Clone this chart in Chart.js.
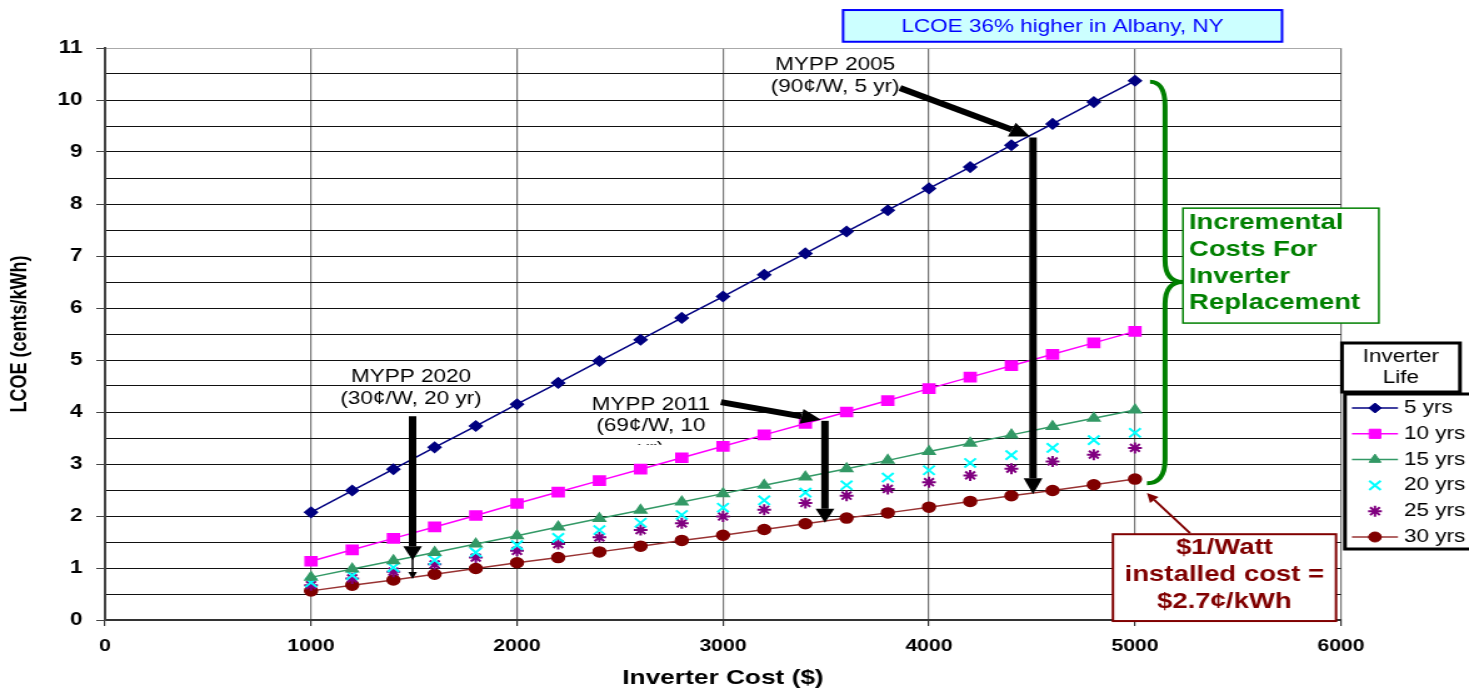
<!DOCTYPE html>
<html lang="en">
  <head>
    <meta charset="utf-8" />
    <title>LCOE vs inverter cost</title>
    <style>
      * {
        margin: 0;
        padding: 0;
      }
      body {
        background: white;
        overflow: hidden;
        width: 1469px;
        height: 689px;
      }
      /* the source picture is a stretched Excel export, so draw narrow and stretch */
      .chartBox {
        width: 1175px;
        height: 689px;
        transform: scaleX(1.2502);
        transform-origin: 0 0;
      }
    </style>
  </head>
  <body>
    <div class="chartBox">
      <canvas id="myChart"></canvas>
    </div>

    <script src="https://cdn.jsdelivr.net/npm/chart.js@4.4.1/dist/chart.umd.min.js"></script>

    <script>
      const FONT = "'Liberation Sans', Arial, sans-serif";

      const costs = [1000, 1200, 1400, 1600, 1800, 2000, 2200, 2400, 2600, 2800, 3000,
        3200, 3400, 3600, 3800, 4000, 4200, 4400, 4600, 4800, 5000];
      const life5 = [2.07, 2.49, 2.9, 3.32, 3.73, 4.15, 4.56, 4.98, 5.39, 5.81, 6.22,
        6.64, 7.05, 7.47, 7.88, 8.3, 8.71, 9.13, 9.54, 9.96, 10.37];
      const life10 = [1.13, 1.35, 1.57, 1.79, 2.01, 2.24, 2.46, 2.68, 2.9, 3.12, 3.34,
        3.56, 3.78, 4.0, 4.22, 4.45, 4.67, 4.89, 5.11, 5.33, 5.55];
      const life15 = [0.82, 0.98, 1.14, 1.3, 1.46, 1.62, 1.79, 1.95, 2.11, 2.27, 2.43,
        2.59, 2.75, 2.91, 3.07, 3.24, 3.4, 3.56, 3.72, 3.88, 4.04];
      const life20 = [0.72, 0.86, 1.01, 1.15, 1.3, 1.44, 1.58, 1.73, 1.87, 2.02, 2.16,
        2.3, 2.45, 2.59, 2.74, 2.88, 3.02, 3.17, 3.31, 3.46, 3.6];
      const life25 = [0.67, 0.8, 0.93, 1.07, 1.2, 1.33, 1.46, 1.59, 1.73, 1.86, 1.99,
        2.12, 2.25, 2.39, 2.52, 2.65, 2.78, 2.91, 3.05, 3.18, 3.31];
      const life30 = [0.56, 0.67, 0.77, 0.88, 0.99, 1.1, 1.2, 1.31, 1.42, 1.53, 1.63,
        1.74, 1.85, 1.96, 2.06, 2.17, 2.28, 2.39, 2.49, 2.6, 2.71];
      const seriesLabels = ["5 yrs", "10 yrs", "15 yrs", "20 yrs", "25 yrs", "30 yrs"];

      const pts = (ys) => costs.map((c, i) => ({ x: c, y: ys[i] }));

      const datasets = [
        { label: seriesLabels[0], data: pts(life5), showLine: true, borderColor: "#000080",
          backgroundColor: "#000080", pointStyle: "rectRot", pointRadius: 5, borderWidth: 1.5 },
        { label: seriesLabels[1], data: pts(life10), showLine: true, borderColor: "#ff00ff",
          backgroundColor: "#ff00ff", pointStyle: "rect", pointRadius: 6.5, borderWidth: 1.5 },
        { label: seriesLabels[2], data: pts(life15), showLine: true, borderColor: "#339966",
          backgroundColor: "#339966", pointStyle: "triangle", pointRadius: 5.5, borderWidth: 1.5 },
        { label: seriesLabels[3], data: pts(life20), showLine: false, borderColor: "#00ffff",
          backgroundColor: "#00ffff", pointStyle: "crossRot", pointRadius: 6.5, pointBorderWidth: 2 },
        { label: seriesLabels[4], data: pts(life25), showLine: false, borderColor: "#800080",
          backgroundColor: "#800080", pointStyle: "star", pointRadius: 5.5, pointBorderWidth: 2 },
        { label: seriesLabels[5], data: pts(life30), showLine: true, borderColor: "#993333",
          backgroundColor: "#800000", pointBorderColor: "#800000", pointStyle: "circle",
          pointRadius: 5, borderWidth: 1.5 },
      ];

      function arrow(ctx, x1, y1, x2, y2, w, hl, hw, col) {
        const a = Math.atan2(y2 - y1, x2 - x1);
        const bx = x2 - hl * Math.cos(a);
        const by = y2 - hl * Math.sin(a);
        ctx.save();
        ctx.strokeStyle = col;
        ctx.fillStyle = col;
        ctx.lineWidth = w;
        ctx.beginPath();
        ctx.moveTo(x1, y1);
        ctx.lineTo(bx, by);
        ctx.stroke();
        ctx.beginPath();
        ctx.moveTo(x2, y2);
        ctx.lineTo(bx + (hw / 2) * Math.sin(a), by - (hw / 2) * Math.cos(a));
        ctx.lineTo(bx - (hw / 2) * Math.sin(a), by + (hw / 2) * Math.cos(a));
        ctx.closePath();
        ctx.fill();
        ctx.restore();
      }

      function lines(ctx, txt, x, y0, dy, font, color, align) {
        ctx.save();
        ctx.font = font;
        ctx.fillStyle = color;
        ctx.textAlign = align || "center";
        ctx.textBaseline = "middle";
        txt.forEach((t, i) => ctx.fillText(t, x, y0 + i * dy));
        ctx.restore();
      }

      function box(ctx, x1, y1, x2, y2, fill, stroke, lw) {
        ctx.save();
        ctx.fillStyle = fill;
        ctx.fillRect(x1, y1, x2 - x1, y2 - y1);
        ctx.strokeStyle = stroke;
        ctx.lineWidth = lw;
        ctx.strokeRect(x1, y1, x2 - x1, y2 - y1);
        ctx.restore();
      }

      const notes = {
        id: "notes",
        afterDraw(chart) {
          const { ctx, chartArea: ca, scales: { x, y } } = chart;
          const X = (v) => x.getPixelForValue(v);
          const Y = (v) => y.getPixelForValue(v);
          const reg = "18px " + FONT;
          const bold = "bold 22px " + FONT;

          // Albany box
          box(ctx, X(3583), Y(11.73), X(5714), Y(11.12), "#ccffff", "#0000ff", 2);
          lines(ctx, ["LCOE 36% higher in Albany, NY"], X(4648), Y(11.41), 0, reg, "#0000ff");

          // MYPP 2005
          lines(ctx, ["MYPP 2005", "(90\u00a2/W, 5 yr)"], X(3544), Y(10.67), 22, reg, "#000");
          arrow(ctx, X(3859), Y(10.23), X(4490), Y(9.3), 6, 16, 15, "#000");
          arrow(ctx, X(4505), Y(9.28), X(4505), Y(2.42), 6, 16, 15, "#000");

          // MYPP 2011 (third line clipped like the text box in the source)
          lines(ctx, ["MYPP 2011", "(69\u00a2/W, 10"], X(2650), Y(4.13), 21, reg, "#000");
          ctx.save();
          ctx.beginPath();
          ctx.rect(X(2300), Y(3.5), X(3000) - X(2300), Y(3.37) - Y(3.5));
          ctx.clip();
          lines(ctx, ["yr)"], X(2650), Y(3.29), 0, reg, "#000");
          ctx.restore();
          arrow(ctx, X(2990), Y(4.19), X(3476), Y(3.85), 6, 16, 15, "#000");
          arrow(ctx, X(3495), Y(3.83), X(3495), Y(1.87), 6, 14, 15, "#000");

          // MYPP 2020
          lines(ctx, ["MYPP 2020", "(30\u00a2/W, 20 yr)"], X(1485), Y(4.67), 22, reg, "#000");
          arrow(ctx, X(1493), Y(3.92), X(1493), Y(1.15), 6, 14, 15, "#000");
          arrow(ctx, X(1493), Y(1.2), X(1493), Y(0.79), 1.5, 7, 7, "#000");

          // green brace
          const xs = X(5073), xv = X(5146), xc = X(5233), xe = X(5058);
          const yt = Y(10.35), ym = Y(6.5), yb = Y(2.63);
          ctx.save();
          ctx.strokeStyle = "#008000";
          ctx.lineWidth = 4;
          ctx.beginPath();
          ctx.moveTo(xs, yt);
          ctx.quadraticCurveTo(xv, yt, xv, yt + 24);
          ctx.lineTo(xv, ym - 22);
          ctx.quadraticCurveTo(xv, ym, xc, ym);
          ctx.moveTo(xc, ym);
          ctx.quadraticCurveTo(xv, ym, xv, ym + 22);
          ctx.lineTo(xv, yb - 24);
          ctx.quadraticCurveTo(xv, yb, xe, yb);
          ctx.stroke();
          ctx.restore();

          box(ctx, X(5233), Y(7.92), X(6184), Y(5.71), "#fff", "#008000", 1.5);
          lines(ctx, ["Incremental", "Costs For", "Inverter", "Replacement"],
            X(5262), Y(7.63), 26.6, bold, "#008000", "left");

          // $1/Watt note
          box(ctx, X(4893), Y(1.65), X(5976), Y(-0.02), "#fff", "#800000", 2);
          lines(ctx, ["$1/Watt", "installed cost =", "$2.7\u00a2/kWh"],
            X(5434), Y(1.38), 27, bold, "#800000");
          arrow(ctx, X(5267), Y(1.67), X(5058), Y(2.44), 2, 9, 9, "#800000");

          // legend
          const tl = ca.right + 0.8;
          box(ctx, tl, 343, tl + 94.4, 392, "#fff", "#000", 3);
          lines(ctx, ["Inverter", "Life"], tl + 47.2, 357, 21, reg, "#000");
          const ll = ca.right + 3.2;
          box(ctx, ll, 394, ll + 120, 549, "#fff", "#000", 3);
          chart.data.datasets.forEach((ds, i) => {
            const ry = 408 + i * 25.8;
            ctx.save();
            if (ds.showLine) {
              ctx.strokeStyle = ds.borderColor;
              ctx.lineWidth = 1.5;
              ctx.beginPath();
              ctx.moveTo(ca.right + 8.8, ry);
              ctx.lineTo(ca.right + 45.6, ry);
              ctx.stroke();
            }
            ctx.fillStyle = ds.backgroundColor;
            ctx.strokeStyle = ds.pointBorderColor || ds.borderColor;
            ctx.lineWidth = ds.pointBorderWidth || 1;
            Chart.helpers.drawPoint(ctx, {
              pointStyle: ds.pointStyle, radius: ds.pointRadius, rotation: 0,
              borderWidth: ds.pointBorderWidth || 1,
            }, ca.right + 27.2, ry);
            ctx.restore();
            lines(ctx, [ds.label], ca.right + 50.5, ry, 0, reg, "#000", "left");
          });
        },
      };

      const config = {
        type: "scatter",
        data: { datasets: datasets },
        options: {
          responsive: true,
          maintainAspectRatio: false,
          animation: false,
          layout: { padding: { top: 48, right: 102.4, left: 0, bottom: 0 } },
          plugins: { legend: { display: false }, tooltip: { enabled: false } },
          scales: {
            x: {
              type: "linear",
              min: 0,
              max: 6000,
              afterFit(scale) {
                scale.height = 69;
              },
              ticks: {
                stepSize: 1000,
                autoSkip: false,
                maxRotation: 0,
                padding: 10,
                color: "#000",
                font: { family: FONT, size: 17, weight: "bold" },
                callback: (v) => String(v),
              },
              grid: {
                color: "#777",
                lineWidth: 1.2,
                tickLength: 6,
                tickColor: "#333",
              },
              border: { color: "#333", width: 2 },
              title: {
                display: true,
                text: "Inverter Cost ($)",
                color: "#000",
                font: { family: FONT, size: 21, weight: "bold" },
                padding: { top: 0, bottom: -2 },
              },
            },
            y: {
              min: 0,
              max: 11,
              afterFit(scale) {
                scale.width = 84;
              },
              ticks: {
                stepSize: 0.5,
                autoSkip: false,
                padding: 11,
                color: "#000",
                font: { family: FONT, size: 18, weight: "bold" },
                callback: (v) => (Number.isInteger(v) ? v : ""),
              },
              grid: {
                color: (c) => (c.tick && c.tick.value === 11 ? "#aaa" : "#111"),
                lineWidth: 1,
                tickLength: 7,
                tickColor: (c) => (c.tick && Number.isInteger(c.tick.value) ? "#444" : "rgba(0,0,0,0)"),
              },
              border: { color: "#444", width: 2 },
              title: {
                display: true,
                text: "LCOE (cents/kWh)",
                color: "#000",
                font: { family: FONT, size: 18, weight: "bold" },
                padding: { top: 5, bottom: 0 },
              },
            },
          },
        },
        plugins: [notes],
      };

      const myChart = new Chart(document.getElementById("myChart"), config);
    </script>
  </body>
</html>
